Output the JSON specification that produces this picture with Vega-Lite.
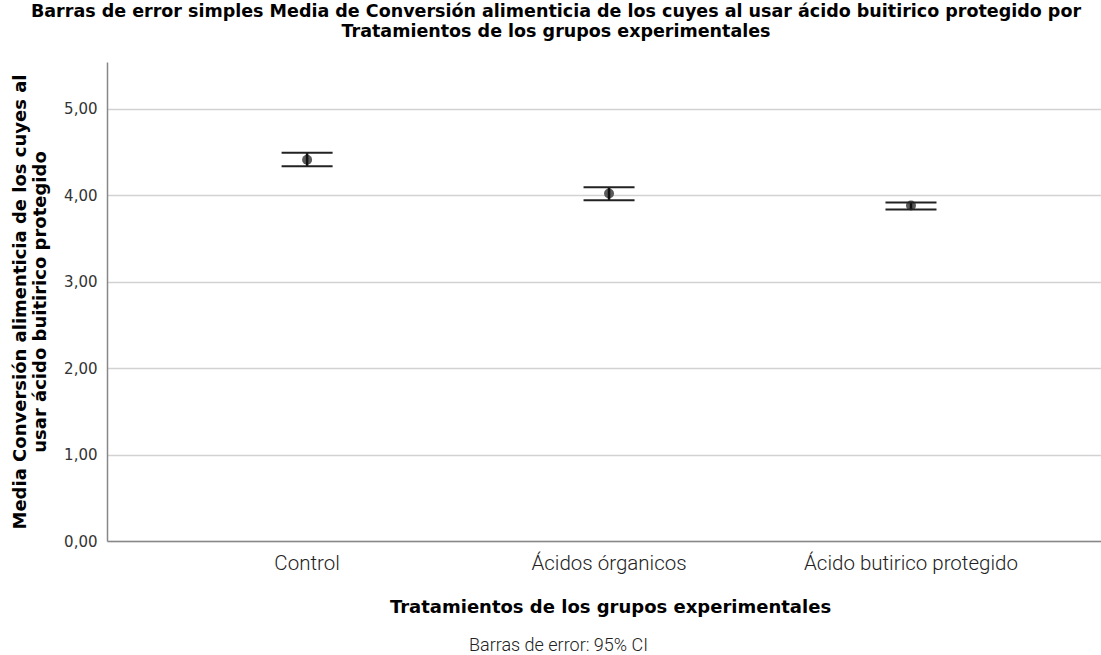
{
  "$schema": "https://vega.github.io/schema/vega-lite/v6.json",
  "autosize": {"type": "none"},
  "width": 994,
  "height": 479,
  "padding": {"left": 107, "top": 62, "right": 0, "bottom": 114},
  "background": "white",
  "title": {
    "text": ["Barras de error simples Media de Conversión alimenticia de los cuyes al usar  ácido buitirico protegido por", "Tratamientos de los grupos experimentales"],
    "anchor": "middle",
    "dx": -48,
    "offset": 22,
    "font": "DejaVu Sans",
    "fontSize": 17.5,
    "fontWeight": "bold",
    "color": "#000000",
    "lineHeight": 19.5
  },
  "config": {
    "view": {"stroke": null},
    "axis": {"labelFont": "DejaVu Sans", "titleFont": "DejaVu Sans"}
  },
  "data": {
    "values": [
      {"Tratamiento": "Control", "media": 4.41, "li": 4.335, "ls": 4.49},
      {"Tratamiento": "Ácidos órganicos", "media": 4.02, "li": 3.94, "ls": 4.09},
      {"Tratamiento": "Ácido butirico protegido", "media": 3.88, "li": 3.835, "ls": 3.915}
    ]
  },
  "layer": [
    {
      "layer": [
        {
          "mark": {"type": "point", "filled": true, "color": "#5a5a5a", "size": 100, "opacity": 1},
          "encoding": {
            "x": {
              "field": "Tratamiento",
              "type": "nominal",
              "sort": null,
              "scale": {"type": "band", "paddingInner": 0.9, "paddingOuter": 0.596, "align": 0.514},
              "axis": {
                "title": "Tratamientos de los grupos experimentales",
                "titleFontSize": 18,
                "titleFontWeight": "bold",
                "titleColor": "#000000",
                "titlePadding": 25,
                "titleX": 503,
                "labelAngle": 0,
                "labelFont": "Roboto",
                "labelFontWeight": 300,
                "labelFontSize": 20.5,
                "labelColor": "#222222",
                "labelPadding": 12,
                "labelLimit": 0,
                "ticks": false,
                "grid": false,
                "domainColor": "#888888",
                "domainWidth": 1.5
              }
            },
            "y": {
              "field": "media",
              "type": "quantitative",
              "scale": {"domain": [0, 5.54], "nice": false},
              "axis": {
                "title": ["Media Conversión alimenticia de los cuyes al", "usar  ácido buitirico protegido"],
                "titleFontSize": 18,
                "titleFontWeight": "bold",
                "titleColor": "#000000",
                "titlePadding": 14,
                "titleLineHeight": 20,
                "values": [0, 1, 2, 3, 4, 5],
                "labelExpr": "replace(format(datum.value, '.2f'), '.', ',')",
                "labelFontSize": 15,
                "labelColor": "#333333",
                "labelPadding": 10,
                "ticks": false,
                "grid": true,
                "gridColor": "#d2d2d2",
                "gridWidth": 1.5,
                "domainColor": "#888888",
                "domainWidth": 1.5
              }
            }
          }
        },
        {
          "mark": {"type": "rule", "color": "#111111", "strokeWidth": 2.5},
          "encoding": {
            "x": {"field": "Tratamiento", "type": "nominal", "sort": null},
            "y": {"field": "li", "type": "quantitative"},
            "y2": {"field": "ls"}
          }
        },
        {
          "mark": {"type": "tick", "orient": "horizontal", "color": "#222222", "size": 51, "thickness": 2, "opacity": 1},
          "encoding": {
            "x": {"field": "Tratamiento", "type": "nominal", "sort": null},
            "y": {"field": "li", "type": "quantitative"}
          }
        },
        {
          "mark": {"type": "tick", "orient": "horizontal", "color": "#222222", "size": 51, "thickness": 2, "opacity": 1},
          "encoding": {
            "x": {"field": "Tratamiento", "type": "nominal", "sort": null},
            "y": {"field": "ls", "type": "quantitative"}
          }
        }
      ]
    },
    {
      "mark": {"type": "point", "opacity": 0},
      "encoding": {
        "x": {
          "field": "Tratamiento",
          "type": "nominal",
          "sort": null,
          "scale": {"type": "band", "paddingInner": 0.9, "paddingOuter": 0.596, "align": 0.514},
          "axis": {
            "orient": "bottom",
            "offset": 93,
            "title": "Barras de error: 95% CI",
            "titleFont": "Roboto",
            "titleFontWeight": 300,
            "titleFontSize": 18,
            "titleColor": "#222222",
            "titlePadding": 2,
            "titleX": 451,
            "labels": false,
            "ticks": false,
            "domain": false,
            "grid": false
          }
        },
        "y": {"field": "media", "type": "quantitative"}
      }
    }
  ],
  "resolve": {"scale": {"x": "independent"}, "axis": {"x": "independent"}}
}
